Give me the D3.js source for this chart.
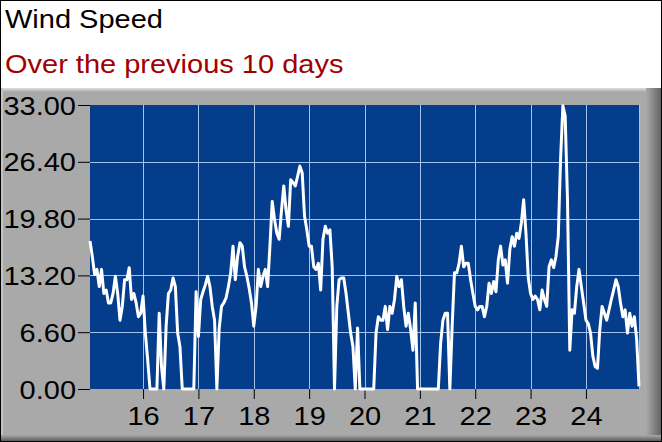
<!DOCTYPE html>
<html>
<head>
<meta charset="utf-8">
<script src="https://cdn.jsdelivr.net/npm/d3@7"></script>
<style>
  body { margin: 0; background: #fff; }
  svg { display: block; }
  text { font-family: "Liberation Sans", Arial, sans-serif; }
</style>
</head>
<body>
<svg id="chart" width="662" height="442"></svg>
<script>
// chart text
const title = "Wind Speed";
const subtitle = "Over the previous 10 days";

// axis ticks
const yTicks = [0, 6.6, 13.2, 19.8, 26.4, 33];
const xTicks = [16, 17, 18, 19, 20, 21, 22, 23, 24];

// hourly wind speed; the record starts at 01:00 on the 15th
const dayNumbers = [15, 16, 17, 18, 19, 20, 21, 22, 23, 24];
const day15 = [17.2, 15.4, 13.3, 13.9, 11.9, 13.9, 11.1, 11.5, 10.0, 10.0, 11.1, 13.1,
               11.1, 8.0, 9.6, 12.7, 12.7, 14.1, 10.4, 11.1, 10.0, 8.4, 8.8];
const day16 = [10.8, 6.5, 3.4, 0, 0, 0, 0, 8.8, 2.6, 0, 7.3, 11.1,
               11.5, 12.9, 11.9, 6.5, 4.9, 0, 0, 0, 0, 0, 0, 11.3];
const day17 = [6.1, 10.4, 11.3, 12.1, 13.1, 11.9, 9.6, 8.0, 0, 7.0, 9.6, 10.0,
               10.6, 11.9, 13.5, 16.6, 12.7, 15.4, 17.0, 16.6, 14.2, 13.1, 11.7, 10.0];
const day18 = [7.3, 9.6, 13.9, 11.9, 13.1, 13.9, 11.9, 16.6, 21.8, 19.7, 18.1, 17.4,
               20.7, 23.6, 20.8, 18.9, 24.3, 24.0, 23.6, 24.7, 25.9, 25.1, 20.1, 18.5];
const day19 = [16.6, 16.6, 14.2, 13.9, 14.6, 11.5, 17.4, 18.9, 18.1, 18.5, 14.2, 0,
               9.6, 12.7, 12.9, 12.9, 11.1, 8.8, 6.5, 4.9, 0, 7.1, 0, 0];
const day20 = [0, 0, 0, 0, 0, 6.5, 8.4, 8.0, 8.0, 9.6, 6.9, 9.6,
               8.8, 10.4, 13.1, 11.9, 12.7, 9.6, 7.3, 8.8, 6.9, 4.5, 10.0, 0];
const day21 = [0, 0, 0, 0, 0, 0, 0, 0, 0, 5.3, 8.0, 8.8,
               8.8, 0, 7.3, 13.5, 13.5, 14.6, 16.6, 14.2, 14.6, 14.6, 12.7, 11.1];
const day22 = [9.6, 9.2, 9.6, 9.6, 8.4, 9.6, 12.3, 11.1, 12.5, 11.3, 15.0, 16.6,
               14.4, 15.0, 12.3, 16.2, 17.7, 16.6, 18.1, 17.5, 19.3, 22.0, 18.1, 12.9];
const day23 = [11.1, 10.4, 10.8, 10.4, 9.2, 11.5, 10.4, 9.6, 14.2, 15.0, 14.1, 15.4,
               17.7, 26.7, 32.9, 31.7, 22.0, 4.5, 9.2, 8.8, 11.9, 13.9, 11.9, 10.0];
const day24 = [8.0, 7.6, 6.5, 3.8, 2.6, 2.4, 6.9, 9.6, 8.8, 8.0, 9.2, 10.4,
               11.5, 12.7, 11.9, 10.0, 8.4, 9.2, 6.5, 8.8, 7.3, 8.4, 5.7, 0.3];
const hourly = [day15, day16, day17, day18, day19, day20, day21, day22, day23, day24];

let data = [];
hourly.forEach(function (vals, i) {
  let firstHour = 24 - vals.length;
  vals.forEach(function (v, h) {
    data.push({ t: dayNumbers[i] + (firstHour + h) / 24, speed: v });
  });
});

let svg = d3.select("#chart");
const W = 662, H = 442;
let plot = { left: 90, right: 639, top: 105, bottom: 389 };
const stretch = 1.16;   // the source renders its text a little wide

let defs = svg.append("defs");
let gRight = defs.append("linearGradient").attr("id", "bevelRight");
gRight.append("stop").attr("offset", "0%").attr("stop-color", "#a9a9a9");
gRight.append("stop").attr("offset", "100%").attr("stop-color", "#5e5e5e");
let gBottom = defs.append("linearGradient").attr("id", "bevelBottom")
  .attr("x1", 0).attr("y1", 0).attr("x2", 0).attr("y2", 1);
gBottom.append("stop").attr("offset", "0%").attr("stop-color", "#a9a9a9");
gBottom.append("stop").attr("offset", "100%").attr("stop-color", "#505050");
let gTop = defs.append("linearGradient").attr("id", "bevelTop")
  .attr("x1", 0).attr("y1", 0).attr("x2", 0).attr("y2", 1);
gTop.append("stop").attr("offset", "0%").attr("stop-color", "#e0e0e0");
gTop.append("stop").attr("offset", "100%").attr("stop-color", "#a9a9a9");

// header
svg.append("rect").attr("width", W).attr("height", H).attr("fill", "#fff");
svg.append("text")
  .attr("transform", "translate(5,28) scale(" + stretch + ",1)")
  .attr("font-size", 25)
  .attr("fill", "#000")
  .text(title);
svg.append("text")
  .attr("transform", "translate(5,73) scale(" + stretch + ",1)")
  .attr("font-size", 25)
  .attr("fill", "#a00000")
  .text(subtitle);

// grey frame
svg.append("rect").attr("x", 0).attr("y", 88).attr("width", W).attr("height", H - 88).attr("fill", "#a9a9a9");
svg.append("rect").attr("x", 0).attr("y", 88).attr("width", W).attr("height", 4).attr("fill", "url(#bevelTop)");
svg.append("rect").attr("x", 0).attr("y", 88).attr("width", 3).attr("height", H - 88).attr("fill", "#c4c4c4");
svg.append("rect").attr("x", 646).attr("y", 88).attr("width", 16).attr("height", H - 88).attr("fill", "url(#bevelRight)");
svg.append("rect").attr("x", 0).attr("y", 435).attr("width", W).attr("height", 7).attr("fill", "url(#bevelBottom)");
svg.append("rect").attr("x", 0.5).attr("y", 0.5).attr("width", W - 1).attr("height", H - 1)
  .attr("fill", "none").attr("stroke", "#000");

let x = d3.scaleLinear()
  .domain([15 + 1 / 24, 24 + 23 / 24])
  .range([plot.left, plot.right]);

let y = d3.scaleLinear()
  .domain([0, 33])
  .range([plot.bottom, plot.top]);

// plot area
svg.append("rect")
  .attr("x", plot.left).attr("y", plot.top)
  .attr("width", plot.right - plot.left).attr("height", plot.bottom - plot.top)
  .attr("fill", "#033d8b");

// grid
svg.append("g").selectAll("line").data(xTicks).join("line")
  .attr("x1", d => Math.round(x(d)) + 0.5).attr("x2", d => Math.round(x(d)) + 0.5)
  .attr("y1", plot.top).attr("y2", plot.bottom)
  .attr("stroke", "#a4c2ee").attr("stroke-width", 1);
svg.append("g").selectAll("line").data(yTicks.slice(1, -1)).join("line")
  .attr("x1", plot.left).attr("x2", plot.right)
  .attr("y1", d => Math.round(y(d)) + 0.5).attr("y2", d => Math.round(y(d)) + 0.5)
  .attr("stroke", "#a4c2ee").attr("stroke-width", 1);
svg.append("line")
  .attr("x1", plot.right + 0.5).attr("x2", plot.right + 0.5)
  .attr("y1", plot.top).attr("y2", plot.bottom)
  .attr("stroke", "#a4c2ee");

// axes
let yAxis = svg.append("g")
  .attr("transform", "translate(" + plot.left + ",0)")
  .call(d3.axisLeft(y).tickValues(yTicks).tickFormat(d3.format(".2f")).tickSize(12));
let xAxis = svg.append("g")
  .attr("transform", "translate(0," + plot.bottom + ")")
  .call(d3.axisBottom(x).tickValues(xTicks).tickFormat(d3.format("d")).tickSize(10));

[yAxis, xAxis].forEach(function (ax) {
  ax.select(".domain").remove();
  ax.selectAll(".tick line").attr("stroke", "#000");
  ax.selectAll(".tick text")
    .attr("fill", "#000")
    .attr("font-size", 25)
    .attr("font-family", "'Liberation Sans', Arial, sans-serif")
    .attr("transform", "scale(" + stretch + ",1)")
    .attr("dy", 0);
});
yAxis.selectAll(".tick text")
  .attr("x", -14 / stretch)
  .attr("y", 9);
xAxis.selectAll(".tick text")
  .attr("x", 0)
  .attr("y", 36);

// wind line
let line = d3.line()
  .x(d => x(d.t))
  .y(d => y(d.speed));

svg.append("path")
  .datum(data)
  .attr("d", line)
  .attr("fill", "none")
  .attr("stroke", "#fff")
  .attr("stroke-width", 3)
  .attr("stroke-linejoin", "round");
</script>
</body>
</html>
